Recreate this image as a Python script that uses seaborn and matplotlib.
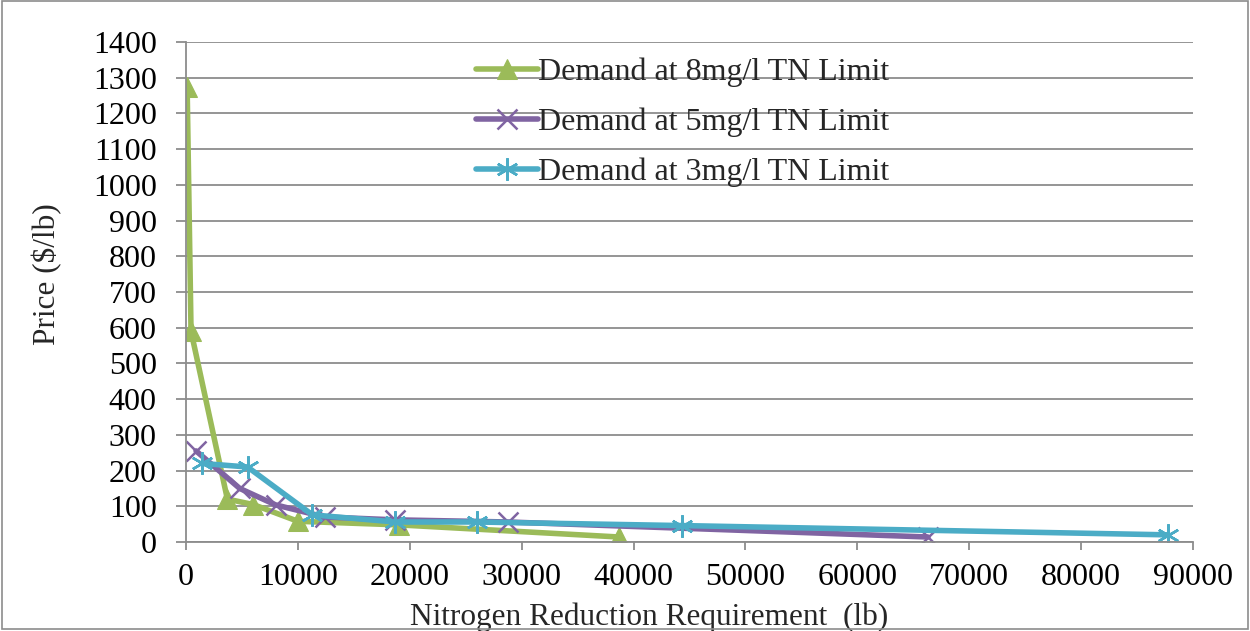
import matplotlib
matplotlib.use("Agg")
import matplotlib.pyplot as plt
import seaborn as sns
import pandas as pd
from matplotlib.patches import Rectangle

# Demand curves: nitrogen reduction (lb) vs price ($/lb)
x_8mg = [100, 450, 3700, 6000, 10000, 19000, 38700]
y_8mg = [1275, 590, 120, 105, 58, 48, 14]

x_5mg = [900, 4800, 8000, 12400, 18700, 28800, 66300]
y_5mg = [255, 150, 104, 70, 62, 56, 14]

x_3mg = [1400, 5500, 11300, 18700, 26000, 44300, 87800]
y_3mg = [220, 210, 76, 56, 56, 46, 20]

labels = ["Demand at 8mg/l TN Limit", "Demand at 5mg/l TN Limit", "Demand at 3mg/l TN Limit"]
colors = ["#9BBB59", "#8064A2", "#4BACC6"]

x_ticks = list(range(0, 90001, 10000))
y_ticks = list(range(0, 1401, 100))

sns.set_theme(style="white")
plt.rcParams["font.family"] = ["Liberation Serif", "DejaVu Serif"]

fig = plt.figure(figsize=(12.5, 6.31), dpi=100)
ax = fig.add_axes([186 / 1250, 1 - 542 / 631, (1193 - 186) / 1250, (542 - 42) / 631])

series = [
    (x_8mg, y_8mg, "^", dict(markersize=15)),
    (x_5mg, y_5mg, "x", dict(markersize=14, markeredgewidth=1.8)),
    (x_3mg, y_3mg, (6, 2, 0), dict(markersize=16, markeredgewidth=1.8)),
]
for (xs, ys, mk, mkw), lab, col in zip(series, labels, colors):
    df = pd.DataFrame({"x": xs, "y": ys})
    sns.lineplot(data=df, x="x", y="y", ax=ax, sort=False, color=col, linewidth=4,
                 marker=mk, markeredgecolor=col, markerfacecolor=col, label=lab,
                 solid_capstyle="round", **mkw)

ax.set_xlim(0, 90000)
ax.set_ylim(0, 1400)
ax.set_xticks(x_ticks)
ax.set_yticks(y_ticks)
ax.set_xticklabels([str(v) for v in x_ticks], fontsize=23)
ax.set_yticklabels([str(v) for v in y_ticks], fontsize=23)
ax.yaxis.grid(True, color="#8c8c8c", linewidth=1.3)
ax.xaxis.grid(False)
ax.set_axisbelow(True)
for side in ["top", "right"]:
    ax.spines[side].set_visible(False)
for side in ["left", "bottom"]:
    ax.spines[side].set_color("#8c8c8c")
    ax.spines[side].set_linewidth(1.3)
ax.tick_params(axis="y", which="major", direction="out", length=7, width=1.3,
               color="#8c8c8c", labelcolor="black", left=True, pad=14)
ax.tick_params(axis="x", which="major", direction="out", length=6, width=1.3,
               color="#8c8c8c", labelcolor="black", bottom=True, pad=9)

ax.set_xlabel("Nitrogen Reduction Requirement  (lb)", fontsize=22.5)
ax.xaxis.label.set_va("baseline")
ax.xaxis.set_label_coords(0.4598, -0.166)
ax.set_ylabel("Price (\\$/lb)", fontsize=22.5)
ax.yaxis.label.set_va("center")
ax.yaxis.set_label_coords(-0.138, 0.536)

leg = ax.legend(loc="upper left", bbox_to_anchor=(0.275, 0.995), frameon=False,
                fontsize=23, handlelength=1.95, handletextpad=0.0, labelspacing=0.65,
                borderaxespad=0)

fig.patches.append(Rectangle((0.0016, 0.0032), 0.9968, 0.9952, transform=fig.transFigure,
                             fill=False, edgecolor="#8c8c8c", linewidth=1.2))

fig.savefig("out.png", dpi=100)
